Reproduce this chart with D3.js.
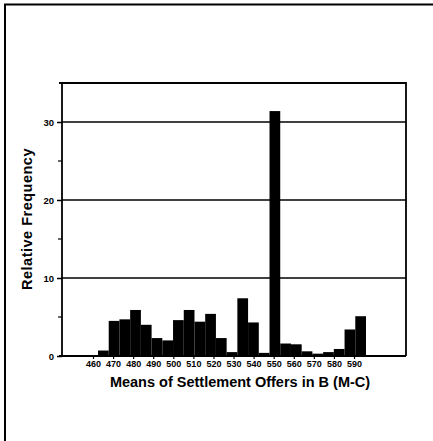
<!DOCTYPE html>
<html>
<head>
<meta charset="utf-8">
<script src="https://cdn.jsdelivr.net/npm/d3@7"></script>
<style>
  html, body { margin: 0; padding: 0; background: #fff; }
  svg { display: block; }
  text { font-family: "Liberation Sans", Arial, Helvetica, sans-serif; font-weight: bold; fill: #000; }
</style>
</head>
<body>
<svg id="chart" width="433" height="441"></svg>
<script>
// Bin centres (offer means, step 5) and relative frequency (%) of each bin
const binCenters = [465, 470, 475, 480, 485, 490, 495, 500, 505, 510, 515, 520, 525,
                    530, 535, 540, 545, 550, 555, 560, 565, 570, 575, 580, 585];
const frequencies = [0.7, 4.5, 4.7, 5.9, 4.0, 2.3, 2.0, 4.6, 5.9, 4.4, 5.4, 2.3, 0.5,
                     7.4, 4.3, 0.4, 31.4, 1.6, 1.5, 0.6, 0.3, 0.5, 0.9, 3.4, 5.1];

// Axis tick labels
const xTickValues = [460, 470, 480, 490, 500, 510, 520, 530, 540, 550, 560, 570, 580, 590];
const yMajorTicks = [0, 10, 20, 30];
const yMinorTicks = [5, 15, 25];
const yMax = 35;

const xTitle = "Means of Settlement Offers in B (M-C)";
const yTitle = "Relative Frequency";

const svg = d3.select("#chart");
const plot = { left: 62, right: 406, top: 83, bottom: 356 };

// Outer frame of the figure
svg.append("path")
  .attr("d", "M5,441 L5,4.5 L433,4.5")
  .attr("fill", "none").attr("stroke", "#000").attr("stroke-width", 2);

const y = d3.scaleLinear().domain([0, yMax]).range([plot.bottom, plot.top]);
const xBars = d3.scaleBand().domain(binCenters).range([98, 366]).padding(0);
const xLabels = d3.scaleLinear().domain([460, 590]).range([93, 354]);

// Horizontal gridlines
svg.append("g").selectAll("line").data(yMajorTicks.filter(d => d > 0)).join("line")
  .attr("x1", plot.left).attr("x2", plot.right)
  .attr("y1", d => y(d)).attr("y2", d => y(d))
  .attr("stroke", "#000").attr("stroke-width", 1.6);

// Bars
svg.append("g").selectAll("rect").data(binCenters).join("rect")
  .attr("x", d => xBars(d))
  .attr("width", xBars.bandwidth())
  .attr("y", (d, i) => y(frequencies[i]))
  .attr("height", (d, i) => y(0) - y(frequencies[i]))
  .attr("fill", "#000");

// Plot frame: top and right edges
svg.append("path")
  .attr("d", `M${plot.left - 3},${y(yMax)} L${plot.right},${y(yMax)} L${plot.right},${plot.bottom}`)
  .attr("fill", "none").attr("stroke", "#000").attr("stroke-width", 1.8);

// Y axis
const yAxis = d3.axisLeft(y).tickValues(yMajorTicks).tickSize(5).tickPadding(3).tickFormat(d3.format("d"));
const gy = svg.append("g").attr("transform", `translate(${plot.left},0)`).call(yAxis);
gy.select(".domain").attr("stroke-width", 1.8).attr("d", `M0,${plot.bottom}V${y(yMax)}`);
gy.selectAll(".tick line").attr("stroke-width", 1.5);
gy.selectAll(".tick text").style("font-size", "9.5px").style("font-family", null);
gy.append("g").selectAll("line").data(yMinorTicks).join("line")
  .attr("x1", -4).attr("x2", 0)
  .attr("y1", d => y(d)).attr("y2", d => y(d))
  .attr("stroke", "#000").attr("stroke-width", 1.2);

// X axis
svg.append("line")
  .attr("x1", plot.left - 3).attr("x2", plot.right)
  .attr("y1", plot.bottom).attr("y2", plot.bottom)
  .attr("stroke", "#000").attr("stroke-width", 1.8);
const xAxis = d3.axisBottom(xLabels).tickValues(xTickValues).tickSize(3).tickPadding(2).tickFormat(d3.format("d"));
const gx = svg.append("g").attr("transform", `translate(0,${plot.bottom})`).call(xAxis);
gx.select(".domain").remove();
gx.selectAll(".tick line").attr("stroke-width", 1.2);
gx.selectAll(".tick text").style("font-size", "9px").style("font-family", null);

// Axis titles
svg.append("text")
  .attr("x", 240).attr("y", 387)
  .attr("text-anchor", "middle")
  .style("font-size", "14.5px")
  .text(xTitle);

svg.append("text")
  .attr("transform", "translate(32,219) rotate(-90)")
  .attr("text-anchor", "middle")
  .style("font-size", "14.5px")
  .style("letter-spacing", "0.5px")
  .text(yTitle);
</script>
</body>
</html>
